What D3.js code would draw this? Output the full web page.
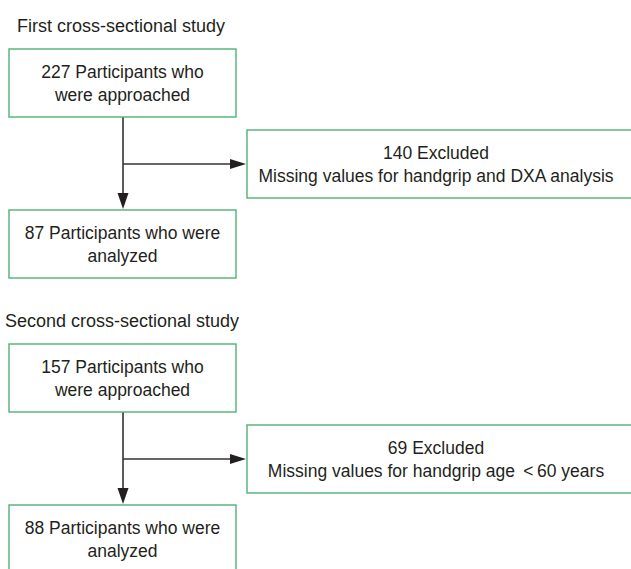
<!DOCTYPE html>
<html>
<head>
<meta charset="utf-8">
<script src="https://cdn.jsdelivr.net/npm/d3@7"></script>
<style>
  html, body { margin: 0; padding: 0; background: #fff; }
  svg { display: block; }
  text { font-family: "Liberation Sans", Arial, sans-serif; fill: #231f20; }
</style>
</head>
<body>
<svg id="chart" width="631" height="569"></svg>
<script>
// ---- content ----
const studyTitles = ["First cross-sectional study", "Second cross-sectional study"];
const approached = [227, 157];
const excluded = [140, 69];
const analyzed = [87, 88];
const exclusionReasons = [
  "Missing values for handgrip and DXA analysis",
  "Missing values for handgrip age \u2009<\u200960 years"
];

// ---- layout ----
const W = 631, H = 569;
const green = "#4db374", ink = "#231f20", arrowCol = "#333333";
const fontSize = 17.5, lineGap = 23;
const panelTop = [0, 295];           // vertical offset of each study block
const titleX = [17, 5];
const leftBox = { x: 9, w: 227, h: 68 };
const rightBox = { x: 247, w: 420, h: 68, textX: 436 };
const rowY = { title: 32, box1: 49, box2: 130, box3: 210 };
const stemX = leftBox.x + leftBox.w / 2 + 0.5;

const svg = d3.select("#chart");

function box(g, x, y, w, h, lines, tx) {
  g.append("rect").attr("x", x).attr("y", y).attr("width", w).attr("height", h)
    .attr("fill", "#fff").attr("stroke", green).attr("stroke-width", 1.4);
  const t = g.append("text").attr("text-anchor", "middle").attr("font-size", fontSize);
  lines.forEach((ln, i) => {
    t.append("tspan").attr("x", tx).attr("y", y + 28.5 + i * lineGap).text(ln);
  });
}

studyTitles.forEach((title, i) => {
  const g = svg.append("g").attr("transform", `translate(0,${panelTop[i]})`);
  g.append("text").attr("x", titleX[i]).attr("y", rowY.title)
    .attr("font-size", 18).text(title);

  // connectors
  const y1 = rowY.box1 + leftBox.h, y3 = rowY.box3;
  const ymid = rowY.box2 + rightBox.h / 2;
  g.append("line").attr("x1", stemX).attr("x2", stemX).attr("y1", y1).attr("y2", y3 - 14)
    .attr("stroke", arrowCol).attr("stroke-width", 1.6);
  g.append("path")
    .attr("d", `M${stemX - 5.5},${y3 - 17} L${stemX + 5.5},${y3 - 17} L${stemX},${y3 - 1} Z`)
    .attr("fill", ink);
  g.append("line").attr("x1", stemX).attr("x2", rightBox.x - 14).attr("y1", ymid).attr("y2", ymid)
    .attr("stroke", arrowCol).attr("stroke-width", 1.6);
  g.append("path")
    .attr("d", `M${rightBox.x - 17},${ymid - 5} L${rightBox.x - 17},${ymid + 5} L${rightBox.x - 1},${ymid} Z`)
    .attr("fill", ink);

  const cx = leftBox.x + leftBox.w / 2;
  box(g, leftBox.x, rowY.box1, leftBox.w, leftBox.h,
      [`${approached[i]} Participants who`, "were approached"], cx);
  box(g, rightBox.x, rowY.box2, rightBox.w, rightBox.h,
      [`${excluded[i]} Excluded`, exclusionReasons[i]], rightBox.textX);
  box(g, leftBox.x, rowY.box3, leftBox.w, leftBox.h + (i === 1 ? 20 : 0),
      [`${analyzed[i]} Participants who were`, "analyzed"], cx);
});
</script>
</body>
</html>
